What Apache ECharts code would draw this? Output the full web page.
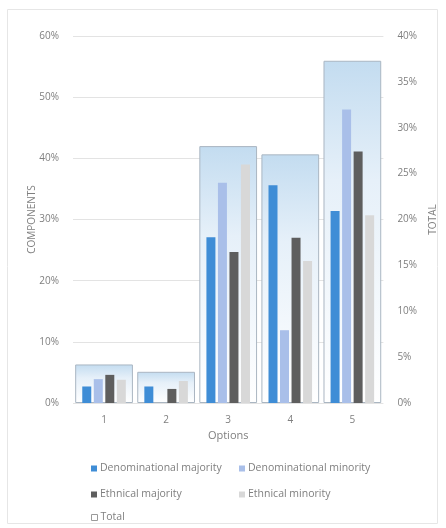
<!DOCTYPE html>
<html>
<head>
<meta charset="utf-8">
<script src="https://cdn.jsdelivr.net/npm/echarts@6/dist/echarts.min.js"></script>
<style>
  html, body { margin: 0; padding: 0; background: #fff; }
  #chart { width: 446px; height: 528px; }
</style>
</head>
<body>
<div id="chart"></div>
<script>
// categories
var options = ['1', '2', '3', '4', '5'];
// component shares (left axis, %)
var denomMajority = [2.7, 2.7, 27.1, 35.6, 31.4];
var denomMinority = [3.9, 0, 36.0, 11.9, 48.0];
var ethnMajority = [4.6, 2.3, 24.7, 27.0, 41.1];
var ethnMinority = [3.8, 3.6, 39.0, 23.2, 30.7];
// total (right axis, %)
var total = [4.2, 3.4, 28.0, 27.1, 37.3];

var leftTicks = [0, 10, 20, 30, 40, 50, 60];
var rightTicks = [0, 5, 10, 15, 20, 25, 30, 35, 40];

var font = 'Open Sans';
var grey = '#7f7f7f';

var chart = echarts.init(document.getElementById('chart'));

function comp(name, data, color) {
  return {
    name: name,
    type: 'bar',
    xAxisIndex: 0,
    yAxisIndex: 0,
    data: data,
    barWidth: 9,
    barGap: '28%',
    itemStyle: { color: color },
    z: 3
  };
}

// one legend box per entry so the columns line up like the original
function legendAt(x, y, item) {
  return {
    left: x, top: y, itemWidth: 6, itemHeight: 6,
    icon: 'rect',
    textStyle: { color: grey, fontSize: 10.5, fontFamily: font, padding: [0, 0, 0, -2] },
    data: [item]
  };
}

chart.setOption({
  animation: false,
  textStyle: { fontFamily: font },
  grid: { left: 73, right: 62, top: 36, bottom: 125 },
  graphic: [{
    type: 'rect',
    shape: { x: 7.5, y: 9.5, width: 430, height: 514 },
    style: { fill: 'none', stroke: '#e6e6e6', lineWidth: 1 },
    silent: true
  }],
  legend: [
    legendAt(86, 458, 'Denominational majority'),
    legendAt(234, 458, 'Denominational minority'),
    legendAt(86, 484, 'Ethnical majority'),
    legendAt(234, 484, 'Ethnical minority'),
    legendAt(86, 507, { name: 'Total', itemStyle: { color: '#fff', borderColor: '#9a9a9a', borderWidth: 1 } })
  ],
  xAxis: [{
    type: 'category',
    data: options,
    name: 'Options',
    nameLocation: 'middle',
    nameGap: 25,
    nameTextStyle: { color: grey, fontSize: 11, fontFamily: font },
    axisLine: { show: false },
    axisTick: { show: false },
    axisLabel: { color: grey, fontSize: 10, margin: 12 }
  }, {
    type: 'category',
    data: options,
    show: false
  }],
  yAxis: [{
    type: 'value',
    min: leftTicks[0],
    max: leftTicks[leftTicks.length - 1],
    interval: 10,
    name: 'COMPONENTS',
    nameLocation: 'middle',
    nameGap: 36,
    nameMoveOverlap: false,
    nameTextStyle: { color: grey, fontSize: 10, fontFamily: font },
    axisLabel: { color: grey, fontSize: 10, formatter: '{value}%', margin: 14 },
    splitLine: { lineStyle: { color: '#e3e3e3' } },
    axisLine: { show: false },
    axisTick: { show: false }
  }, {
    type: 'value',
    min: rightTicks[0],
    max: rightTicks[rightTicks.length - 1],
    interval: 5,
    name: 'TOTAL',
    nameLocation: 'middle',
    nameGap: 42,
    nameRotate: 90,
    nameTextStyle: { color: grey, fontSize: 10, fontFamily: font },
    axisLabel: { color: grey, fontSize: 10, formatter: '{value}%', margin: 14 },
    splitLine: { show: false },
    axisLine: { show: false },
    axisTick: { show: false }
  }],
  series: [
    {
      name: 'Total',
      type: 'bar',
      xAxisIndex: 1,
      yAxisIndex: 1,
      data: total,
      barCategoryGap: '7%',
      z: 1,
      itemStyle: {
        color: new echarts.graphic.LinearGradient(0, 0, 0, 1, [
          { offset: 0, color: '#c3dcf0' },
          { offset: 0.35, color: '#e6f0f9' },
          { offset: 1, color: '#ffffff' }
        ]),
        borderColor: '#aab6c2',
        borderWidth: 1
      }
    },
    comp('Denominational majority', denomMajority, '#3f8dd6'),
    comp('Denominational minority', denomMinority, '#a9bfe9'),
    comp('Ethnical majority', ethnMajority, '#5e5e5e'),
    comp('Ethnical minority', ethnMinority, '#d8d8d8')
  ]
});
</script>
</body>
</html>
